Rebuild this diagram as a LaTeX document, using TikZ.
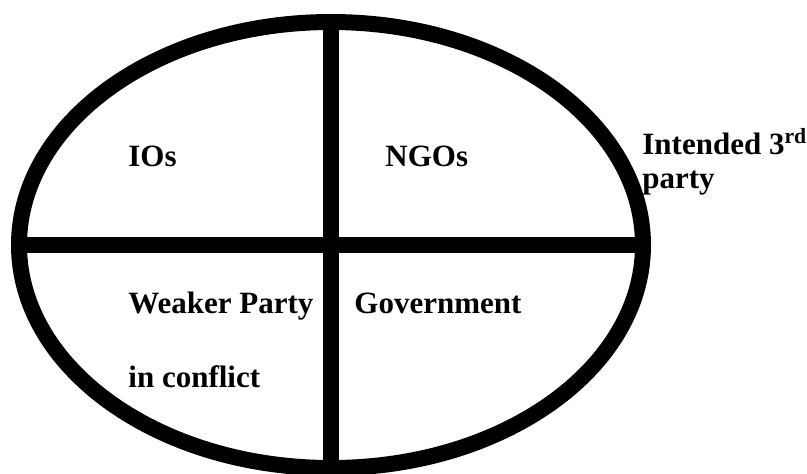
\documentclass[tikz,border=0pt]{standalone}
\usepackage{fontspec}
\setmainfont{Liberation Serif}
\usetikzlibrary{shapes.geometric}

\begin{document}
\begin{tikzpicture}[x=0.5pt, y=-0.5pt]
                \tikzset{quad/.style={anchor=base west, inner sep=0pt, align=left,
                    font=\bfseries\fontsize{15.5}{17}\selectfont}}
                \tikzset{thick line/.style={line width=8pt}}

                \useasboundingbox (0,0) rectangle (807,473);

                % OVAL
                \node[ellipse, draw, thick line, inner sep=0pt, outer sep=0pt,
                    minimum width=312pt, minimum height=223pt] (oval) at (331,245) {};

                % DIVIDERS
                \draw[thick line] (oval.north) -- (oval.south);
                \draw[thick line] (oval.west) -- (oval.east);

                % LABELS
                \node[quad] (ios) at (128,166) {IOs};
                \node[quad] (ngos) at (385,166) {NGOs};
                \node[quad] (weaker) at (128,387) {Weaker Party\\[20pt]in conflict};
                \node[quad] (gov) at (354,313) {Government};
                \node[quad] (third) at (642,188) {Intended 3\textsuperscript{rd}\\party};

            \end{tikzpicture}
\end{document}
